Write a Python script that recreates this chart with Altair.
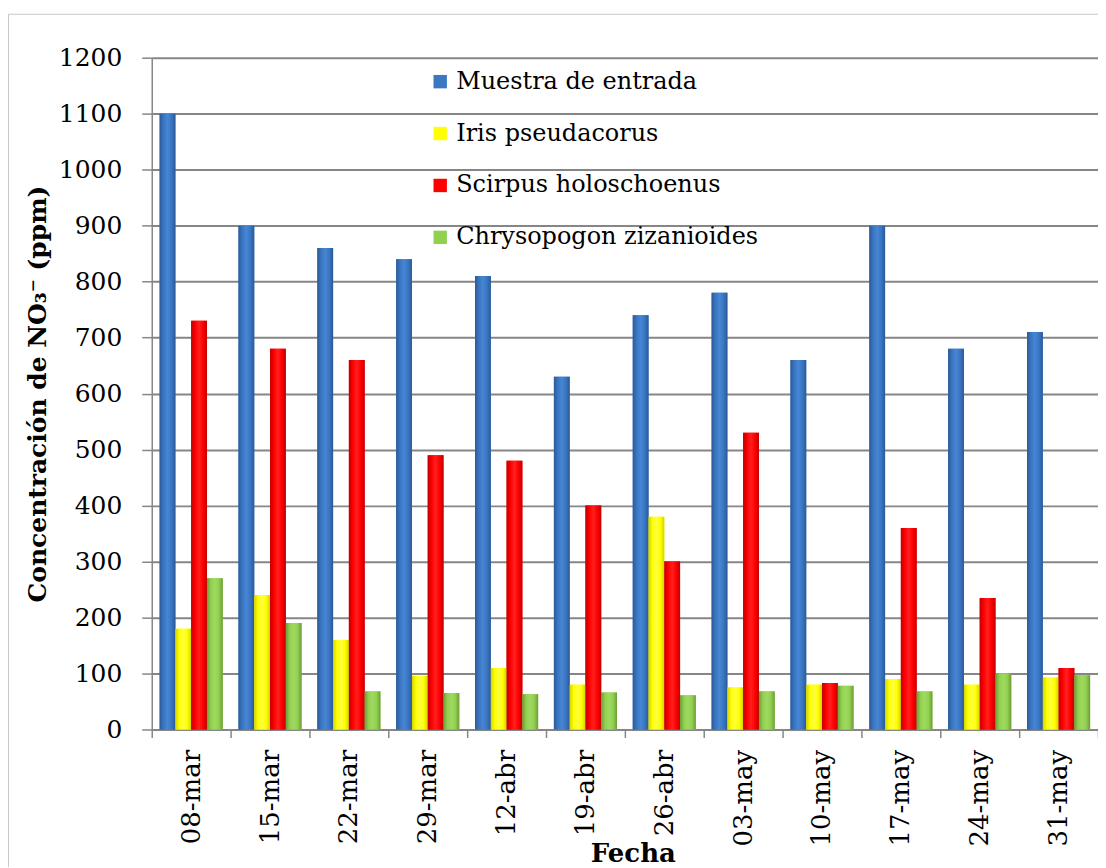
import altair as alt
import pandas as pd

fechas = ["08-mar", "15-mar", "22-mar", "29-mar", "12-abr", "19-abr",
          "26-abr", "03-may", "10-may", "17-may", "24-may", "31-may"]
series = ["Muestra de entrada", "Iris pseudacorus", "Scirpus holoschoenus",
          "Chrysopogon zizanioides"]
muestra = [1100, 900, 860, 840, 810, 630, 740, 780, 660, 900, 680, 710]
iris = [180, 240, 160, 96, 110, 80, 380, 75, 80, 90, 80, 93]
scirpus = [730, 680, 660, 490, 480, 400, 300, 530, 83, 360, 235, 110]
chryso = [270, 190, 68, 65, 63, 66, 61, 68, 78, 68, 100, 97]
y_ticks = list(range(0, 1201, 100))

flat_colors = ["#3b78c3", "#ffff00", "#ff0000", "#92d050"]
grad_colors = [
    ["#2b5a97", "#3a76c2", "#4686d4", "#3a76c2", "#2b5a97"],
    ["#d4d400", "#ffff00", "#ffff40", "#ffff00", "#d4d400"],
    ["#c00000", "#ff0000", "#ff2020", "#ff0000", "#c00000"],
    ["#6d9c38", "#92d050", "#9ed960", "#92d050", "#6d9c38"],
]

rows = []
for s, vals in zip(series, [muestra, iris, scirpus, chryso]):
    for f, v in zip(fechas, vals):
        rows.append({"fecha": f, "serie": s, "valor": v})
df = pd.DataFrame(rows)

FONT = "DejaVu Serif"
GRAY = "#868686"
W, H = 948, 673

x_enc = alt.X(
    "fecha:N", sort=fechas,
    scale=alt.Scale(paddingInner=0, paddingOuter=0),
    axis=alt.Axis(
        title="Fecha", tickBand="extent", tickSize=8, tickColor=GRAY,
        tickWidth=1.5, domainColor=GRAY, domainWidth=1.5,
        labelAngle=270, labelAlign="right", labelBaseline="middle",
        labelFont=FONT, labelFontSize=26, labelColor="black", labelPadding=12,
        titleFont=FONT, titleFontSize=26, titleFontWeight="bold",
        titleColor="black", titleX=482, titleY=132,
        titleBaseline="alphabetic", titleAlign="center",
    ),
)
y_enc = alt.Y(
    "valor:Q",
    scale=alt.Scale(domain=[0, 1200], nice=False),
    axis=alt.Axis(
        values=y_ticks, format="d", title="Concentración de NO₃⁻ (ppm)",
        grid=True, gridColor=GRAY, gridWidth=2, tickSize=10, tickColor=GRAY,
        tickWidth=1.5, domainColor=GRAY, domainWidth=1.5,
        labelFont=FONT, labelFontSize=25, labelColor="black", labelPadding=20,
        titleFont=FONT, titleFontSize=25, titleFontWeight="bold",
        titleColor="black", titleAngle=270, titleX=-106, titleY=H / 2,
        titleBaseline="alphabetic", titleAlign="center",
    ),
)
xo_enc = alt.XOffset(
    "serie:N",
    scale=alt.Scale(domain=series, paddingInner=0, paddingOuter=0.5),
)

base = alt.Chart(df).mark_bar().encode(
    x=x_enc, y=y_enc, xOffset=xo_enc,
    color=alt.Color(
        "serie:N",
        scale=alt.Scale(domain=series, range=flat_colors),
        legend=alt.Legend(
            orient="none", legendX=277, legendY=12, title=None,
            labelFont=FONT, labelFontSize=24, labelColor="black",
            labelLimit=600, symbolType="square", symbolSize=180,
            symbolStrokeWidth=0, rowPadding=28, labelOffset=4, padding=0,
        ),
    ),
)

layers = [base]
for s, cols in zip(series, grad_colors):
    grad = alt.LinearGradient(
        gradient="linear", x1=0, x2=1, y1=0, y2=0,
        stops=[alt.GradientStop(color=c, offset=o)
               for c, o in zip(cols, [0, 0.25, 0.5, 0.75, 1])],
    )
    layers.append(
        alt.Chart(df).transform_filter(alt.datum.serie == s)
        .mark_bar(color=grad)
        .encode(x=x_enc, y=y_enc, xOffset=xo_enc)
    )

frame_df = pd.DataFrame({"k": [0]})
left_border = alt.Chart(frame_df).mark_rule(color="#c8c8c8", strokeWidth=1).encode(
    x=alt.value(-143.5), y=alt.value(-43.5), y2=alt.value(811)
)
top_border = alt.Chart(frame_df).mark_rule(color="#c8c8c8", strokeWidth=1).encode(
    x=alt.value(-143.5), x2=alt.value(W), y=alt.value(-43.5)
)
layers += [left_border, top_border]

chart = alt.layer(*layers).properties(
    width=W, height=H,
    autosize=alt.AutoSizeParams(type="none"),
    padding={"left": 144, "top": 49, "right": 0, "bottom": 138},
).configure_view(strokeWidth=0)

chart.save("out.html", embed_options={"renderer": "svg", "actions": False})
